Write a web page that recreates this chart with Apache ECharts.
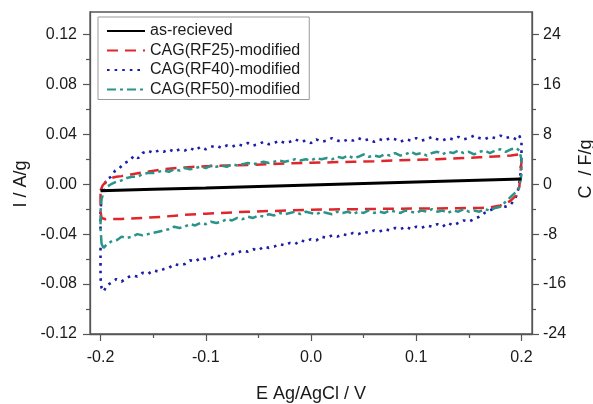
<!DOCTYPE html>
<html>
<head>
<meta charset="utf-8">
<script src="https://cdn.jsdelivr.net/npm/echarts@6/dist/echarts.min.js"></script>
<style>
html,body{margin:0;padding:0;background:#fff;}
#chart{width:593px;height:404px;}
</style>
</head>
<body>
<div id="chart"></div>
<script>
// ---- data (E / V , I / A/g) ----
const seriesNames = ['as-recieved', 'CAG(RF25)-modified', 'CAG(RF40)-modified', 'CAG(RF50)-modified'];

const asReceived = [[-0.200,-0.0052],[-0.150,-0.0040],[-0.100,-0.0030],[-0.050,-0.0018],[0.000,-0.0006],[0.050,0.0006],[0.100,0.0018],[0.150,0.0030],[0.200,0.0042]];

const rf25 = [[-0.200,-0.005],[-0.198,-0.001],[-0.195,0.002],[-0.190,0.005],[-0.185,0.006],[-0.180,0.0065],[-0.170,0.008],[-0.160,0.0095],[-0.140,0.012],[-0.120,0.0135],[-0.100,0.0145],[-0.080,0.015],[-0.060,0.0155],[-0.040,0.016],[-0.020,0.0168],[0.000,0.0172],[0.020,0.0176],[0.040,0.018],[0.060,0.0184],[0.080,0.019],[0.100,0.0196],[0.120,0.020],[0.140,0.0208],[0.160,0.0216],[0.180,0.0224],[0.190,0.023],[0.198,0.024],[0.200,0.018],[0.199,0.008],[0.198,-0.002],[0.195,-0.009],[0.190,-0.013],[0.185,-0.0155],[0.180,-0.017],[0.170,-0.0185],[0.160,-0.019],[0.140,-0.0192],[0.120,-0.0194],[0.100,-0.0195],[0.080,-0.0196],[0.060,-0.0198],[0.040,-0.020],[0.020,-0.0202],[0.000,-0.0205],[-0.020,-0.021],[-0.040,-0.0215],[-0.060,-0.022],[-0.080,-0.0228],[-0.100,-0.0236],[-0.120,-0.0245],[-0.140,-0.026],[-0.160,-0.027],[-0.180,-0.0278],[-0.195,-0.028],[-0.199,-0.027],[-0.200,-0.022],[-0.200,-0.014],[-0.200,-0.005]];

const rf40 = [[-0.200,-0.036],[-0.200,-0.022],[-0.199,-0.010],[-0.197,-0.002],[-0.194,0.004],[-0.190,0.006],[-0.186,0.011],[-0.182,0.013],[-0.177,0.017],[-0.172,0.019],[-0.168,0.023],[-0.164,0.021],[-0.160,0.025],[-0.155,0.027],[-0.150,0.025],[-0.145,0.027],[-0.140,0.026],[-0.135,0.028],[-0.130,0.026],[-0.125,0.028],[-0.120,0.027],[-0.115,0.029],[-0.110,0.027],[-0.105,0.030],[-0.100,0.028],[-0.095,0.030],[-0.090,0.031],[-0.085,0.029],[-0.080,0.031],[-0.075,0.030],[-0.070,0.032],[-0.065,0.031],[-0.060,0.033],[-0.055,0.031],[-0.050,0.032],[-0.045,0.034],[-0.040,0.032],[-0.035,0.033],[-0.030,0.035],[-0.025,0.033],[-0.020,0.034],[-0.015,0.036],[-0.010,0.034],[-0.005,0.035],[0.000,0.033],[0.005,0.036],[0.010,0.034],[0.015,0.035],[0.020,0.037],[0.025,0.035],[0.030,0.034],[0.035,0.036],[0.040,0.035],[0.045,0.037],[0.050,0.035],[0.055,0.036],[0.060,0.034],[0.065,0.036],[0.070,0.035],[0.075,0.037],[0.080,0.036],[0.085,0.034],[0.090,0.036],[0.095,0.035],[0.100,0.037],[0.105,0.035],[0.110,0.036],[0.115,0.038],[0.120,0.036],[0.125,0.035],[0.130,0.037],[0.135,0.036],[0.140,0.038],[0.145,0.036],[0.150,0.037],[0.155,0.039],[0.160,0.037],[0.165,0.036],[0.170,0.038],[0.175,0.037],[0.180,0.039],[0.185,0.037],[0.190,0.038],[0.195,0.036],[0.198,0.039],[0.200,0.034],[0.200,0.022],[0.199,0.008],[0.197,-0.004],[0.194,-0.012],[0.190,-0.016],[0.185,-0.018],[0.180,-0.017],[0.175,-0.019],[0.170,-0.021],[0.165,-0.023],[0.160,-0.026],[0.155,-0.028],[0.150,-0.030],[0.145,-0.029],[0.140,-0.031],[0.135,-0.033],[0.130,-0.031],[0.125,-0.034],[0.120,-0.032],[0.115,-0.034],[0.110,-0.033],[0.105,-0.035],[0.100,-0.034],[0.095,-0.036],[0.090,-0.034],[0.085,-0.036],[0.080,-0.035],[0.075,-0.037],[0.070,-0.036],[0.065,-0.038],[0.060,-0.037],[0.055,-0.039],[0.050,-0.038],[0.045,-0.040],[0.040,-0.039],[0.035,-0.041],[0.030,-0.040],[0.025,-0.042],[0.020,-0.041],[0.015,-0.043],[0.010,-0.042],[0.005,-0.045],[0.000,-0.044],[-0.005,-0.046],[-0.010,-0.045],[-0.015,-0.048],[-0.020,-0.047],[-0.025,-0.049],[-0.030,-0.048],[-0.035,-0.050],[-0.040,-0.051],[-0.045,-0.050],[-0.050,-0.053],[-0.055,-0.052],[-0.060,-0.054],[-0.065,-0.053],[-0.070,-0.055],[-0.075,-0.056],[-0.080,-0.055],[-0.085,-0.058],[-0.090,-0.057],[-0.095,-0.059],[-0.100,-0.060],[-0.105,-0.059],[-0.110,-0.062],[-0.115,-0.061],[-0.120,-0.064],[-0.125,-0.065],[-0.130,-0.064],[-0.135,-0.067],[-0.140,-0.068],[-0.145,-0.070],[-0.150,-0.069],[-0.155,-0.072],[-0.160,-0.071],[-0.165,-0.074],[-0.170,-0.073],[-0.175,-0.075],[-0.180,-0.078],[-0.185,-0.076],[-0.190,-0.079],[-0.194,-0.081],[-0.197,-0.086],[-0.199,-0.083],[-0.200,-0.075],[-0.200,-0.062],[-0.200,-0.050]];

const rf50 = [[-0.199,-0.048],[-0.200,-0.035],[-0.200,-0.022],[-0.199,-0.012],[-0.197,-0.006],[-0.194,-0.002],[-0.190,0.000],[-0.185,0.002],[-0.180,0.003],[-0.175,0.005],[-0.170,0.006],[-0.165,0.006],[-0.160,0.008],[-0.155,0.009],[-0.150,0.009],[-0.145,0.010],[-0.140,0.011],[-0.135,0.010],[-0.130,0.012],[-0.125,0.011],[-0.120,0.013],[-0.115,0.012],[-0.110,0.013],[-0.105,0.014],[-0.100,0.013],[-0.095,0.015],[-0.090,0.014],[-0.085,0.015],[-0.080,0.014],[-0.075,0.016],[-0.070,0.015],[-0.065,0.016],[-0.060,0.017],[-0.055,0.016],[-0.050,0.017],[-0.045,0.018],[-0.040,0.017],[-0.035,0.018],[-0.030,0.019],[-0.025,0.018],[-0.020,0.019],[-0.015,0.020],[-0.010,0.019],[-0.005,0.020],[0.000,0.019],[0.005,0.021],[0.010,0.020],[0.015,0.021],[0.020,0.020],[0.025,0.022],[0.030,0.021],[0.035,0.023],[0.040,0.021],[0.045,0.022],[0.050,0.024],[0.055,0.022],[0.060,0.023],[0.065,0.022],[0.070,0.024],[0.075,0.023],[0.080,0.025],[0.085,0.023],[0.090,0.024],[0.095,0.026],[0.100,0.024],[0.105,0.025],[0.110,0.023],[0.115,0.025],[0.120,0.026],[0.125,0.024],[0.130,0.026],[0.135,0.025],[0.140,0.027],[0.145,0.025],[0.150,0.026],[0.155,0.024],[0.160,0.026],[0.165,0.027],[0.170,0.025],[0.175,0.027],[0.180,0.028],[0.185,0.026],[0.190,0.028],[0.195,0.029],[0.198,0.027],[0.200,0.020],[0.200,0.008],[0.198,-0.002],[0.195,-0.006],[0.190,-0.010],[0.185,-0.014],[0.180,-0.018],[0.175,-0.019],[0.170,-0.021],[0.165,-0.020],[0.160,-0.022],[0.155,-0.021],[0.150,-0.022],[0.145,-0.020],[0.140,-0.022],[0.135,-0.021],[0.130,-0.023],[0.125,-0.021],[0.120,-0.022],[0.115,-0.020],[0.110,-0.022],[0.105,-0.021],[0.100,-0.023],[0.095,-0.022],[0.090,-0.021],[0.085,-0.023],[0.080,-0.022],[0.075,-0.021],[0.070,-0.023],[0.065,-0.022],[0.060,-0.023],[0.055,-0.021],[0.050,-0.023],[0.045,-0.022],[0.040,-0.024],[0.035,-0.022],[0.030,-0.023],[0.025,-0.022],[0.020,-0.024],[0.015,-0.023],[0.010,-0.022],[0.005,-0.024],[0.000,-0.023],[-0.005,-0.022],[-0.010,-0.024],[-0.015,-0.022],[-0.020,-0.023],[-0.025,-0.024],[-0.030,-0.023],[-0.035,-0.025],[-0.040,-0.024],[-0.045,-0.026],[-0.050,-0.025],[-0.055,-0.027],[-0.060,-0.026],[-0.065,-0.028],[-0.070,-0.027],[-0.075,-0.029],[-0.080,-0.028],[-0.085,-0.030],[-0.090,-0.031],[-0.095,-0.030],[-0.100,-0.032],[-0.105,-0.031],[-0.110,-0.033],[-0.115,-0.032],[-0.120,-0.034],[-0.125,-0.035],[-0.130,-0.034],[-0.135,-0.036],[-0.140,-0.037],[-0.145,-0.038],[-0.150,-0.039],[-0.155,-0.040],[-0.160,-0.041],[-0.165,-0.040],[-0.170,-0.042],[-0.175,-0.043],[-0.180,-0.042],[-0.185,-0.045],[-0.190,-0.046],[-0.194,-0.048],[-0.197,-0.051],[-0.199,-0.048]];

// ---- ticks ----
const xTicks = [-0.2, -0.1, 0.0, 0.1, 0.2];
const xMinorTicks = [-0.15, -0.05, 0.05, 0.15];
const yLeftTicks = [-0.12, -0.08, -0.04, 0.00, 0.04, 0.08, 0.12];
const yLeftMinorTicks = [-0.10, -0.06, -0.02, 0.02, 0.06, 0.10];
const yRightTicks = [-24, -16, -8, 0, 8, 16, 24];
const yRightMinorTicks = [-20, -12, -4, 4, 12, 20];

const FONT = '"Liberation Sans", Arial, sans-serif';
const AX = '#555';
const TXT = '#1a1a1a';

const chart = echarts.init(document.getElementById('chart'), null, {renderer: 'canvas'});

function mainAxisCommon(ticks, fmt, tickLen, margin) {
  return {
    axisLine: {show: true, onZero: false, lineStyle: {color: AX, width: 1.3}},
    axisTick: {show: true, inside: false, length: tickLen, customValues: ticks, lineStyle: {color: AX, width: 1.2}},
    axisLabel: {show: true, customValues: ticks, formatter: fmt, margin: margin, fontSize: 16, color: TXT, fontFamily: FONT},
    splitLine: {show: false}
  };
}
function minorAxis(ticks) {
  return {
    axisLine: {show: false, onZero: false},
    axisTick: {show: true, inside: false, length: 4, customValues: ticks, lineStyle: {color: AX, width: 1.2}},
    axisLabel: {show: false},
    splitLine: {show: false}
  };
}

const option = {
  animation: false,
  backgroundColor: '#fff',
  grid: {left: 90, right: 61, top: 12, bottom: 70, show: true, borderColor: AX, borderWidth: 1.3,
    containLabel: false, outerBoundsMode: 'none'},
  legend: {
    show: true, orient: 'vertical', left: 98, top: 17,
    itemWidth: 38, itemHeight: 12, itemGap: 3.5,
    padding: [6, 9, 2, 8],
    borderColor: '#999', borderWidth: 1, backgroundColor: '#fff',
    selectedMode: false,
    itemStyle: {opacity: 0},
    textStyle: {fontSize: 16, color: TXT, fontFamily: FONT},
    data: seriesNames
  },
  xAxis: [
    Object.assign({type: 'value', min: -0.21, max: 0.21, position: 'bottom',
      name: 'E Ag/AgCl / V', nameLocation: 'middle', nameGap: 51,
      nameTextStyle: {fontSize: 18, color: TXT, fontFamily: FONT}},
      mainAxisCommon(xTicks, v => v.toFixed(1), 7, 16)),
    Object.assign({type: 'value', min: -0.21, max: 0.21, position: 'bottom'}, minorAxis(xMinorTicks))
  ],
  yAxis: [
    Object.assign({type: 'value', min: -0.12, max: 0.138, position: 'left',
      name: 'I / A/g', nameLocation: 'middle', nameGap: 60, nameRotate: 90,
      nameTextStyle: {fontSize: 18, color: TXT, fontFamily: FONT, padding: [0, 22, 0, 0]}},
      mainAxisCommon(yLeftTicks, v => v.toFixed(2), 7, 13)),
    Object.assign({type: 'value', min: -0.12, max: 0.138, position: 'left'}, minorAxis(yLeftMinorTicks)),
    Object.assign({type: 'value', min: -24, max: 27.6, position: 'right',
      name: 'C  / F/g', nameLocation: 'middle', nameGap: 42, nameRotate: 90,
      nameTextStyle: {fontSize: 18, color: TXT, fontFamily: FONT, padding: [0, 0, 0, 8]}},
      mainAxisCommon(yRightTicks, v => String(Math.round(v)), 7, 11)),
    Object.assign({type: 'value', min: -24, max: 27.6, position: 'right'}, minorAxis(yRightMinorTicks))
  ],
  series: [
    {name: seriesNames[0], type: 'line', data: asReceived, symbol: 'none', showSymbol: false, z: 6,
      lineStyle: {color: '#000', width: 3}, itemStyle: {color: '#000'}},
    {name: seriesNames[1], type: 'line', data: rf25, symbol: 'none', showSymbol: false, z: 3,
      lineStyle: {color: '#e0262a', width: 2.5, type: [11, 7]}, itemStyle: {color: '#e0262a'}},
    {name: seriesNames[2], type: 'line', data: rf40, symbol: 'none', showSymbol: false, z: 2,
      lineStyle: {color: '#1c1fa6', width: 2.6, type: [2.6, 5]}, itemStyle: {color: '#1c1fa6'}},
    {name: seriesNames[3], type: 'line', data: rf50, symbol: 'none', showSymbol: false, z: 4,
      lineStyle: {color: '#2a9488', width: 2.5, type: [9, 4, 3, 4]}, itemStyle: {color: '#2a9488'}}
  ]
};
chart.setOption(option);
</script>
</body>
</html>
